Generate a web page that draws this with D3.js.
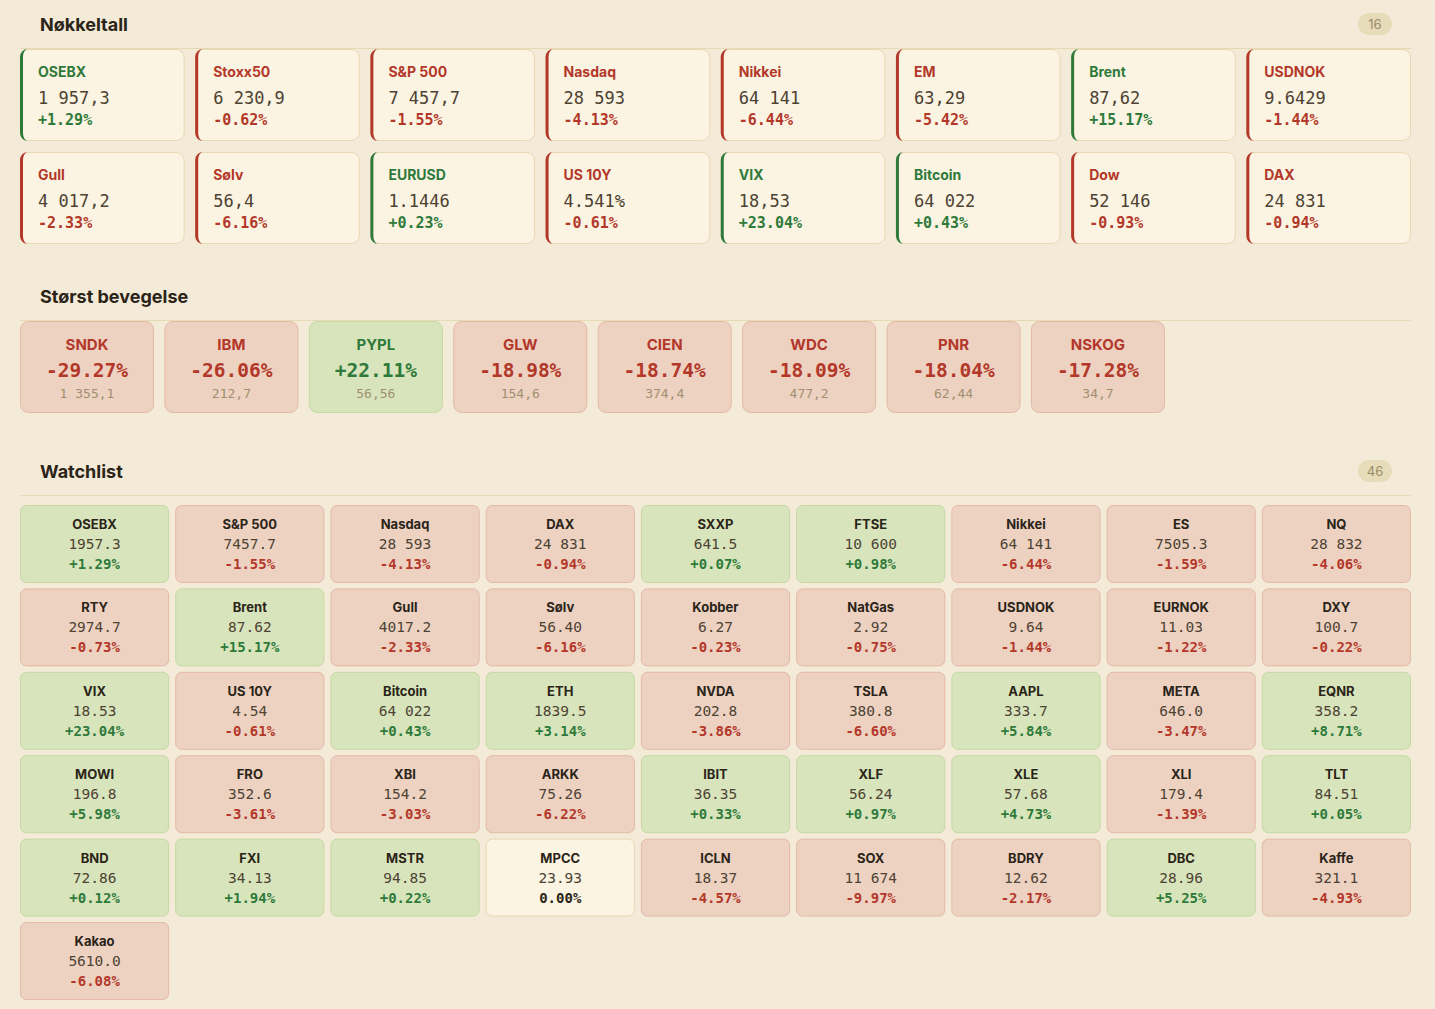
<!DOCTYPE html>
<html>
<head>
<meta charset="utf-8">
<script src="https://cdn.jsdelivr.net/npm/d3@7"></script>
<style>
  html, body { margin: 0; padding: 0; background: #f3ead7; }
  svg { display: block; }
</style>
</head>
<body>
<div id="board"></div>
<script>
// Nøkkeltall
const keyNames   = ["OSEBX","Stoxx50","S&P 500","Nasdaq","Nikkei","EM","Brent","USDNOK",
                    "Gull","Sølv","EURUSD","US 10Y","VIX","Bitcoin","Dow","DAX"];
const keyValues  = ["1 957,3","6 230,9","7 457,7","28 593","64 141","63,29","87,62","9.6429",
                    "4 017,2","56,4","1.1446","4.541%","18,53","64 022","52 146","24 831"];
const keyChanges = [1.29,-0.62,-1.55,-4.13,-6.44,-5.42,15.17,-1.44,
                    -2.33,-6.16,0.23,-0.61,23.04,0.43,-0.93,-0.94];

// Størst bevegelse
const moverNames   = ["SNDK","IBM","PYPL","GLW","CIEN","WDC","PNR","NSKOG"];
const moverChanges = [-29.27,-26.06,22.11,-18.98,-18.74,-18.09,-18.04,-17.28];
const moverValues  = ["1 355,1","212,7","56,56","154,6","374,4","477,2","62,44","34,7"];

// Watchlist
const watchNames = ["OSEBX","S&P 500","Nasdaq","DAX","SXXP","FTSE","Nikkei","ES","NQ",
                    "RTY","Brent","Gull","Sølv","Kobber","NatGas","USDNOK","EURNOK","DXY",
                    "VIX","US 10Y","Bitcoin","ETH","NVDA","TSLA","AAPL","META","EQNR",
                    "MOWI","FRO","XBI","ARKK","IBIT","XLF","XLE","XLI","TLT",
                    "BND","FXI","MSTR","MPCC","ICLN","SOX","BDRY","DBC","Kaffe",
                    "Kakao"];
const watchValues = ["1957.3","7457.7","28 593","24 831","641.5","10 600","64 141","7505.3","28 832",
                     "2974.7","87.62","4017.2","56.40","6.27","2.92","9.64","11.03","100.7",
                     "18.53","4.54","64 022","1839.5","202.8","380.8","333.7","646.0","358.2",
                     "196.8","352.6","154.2","75.26","36.35","56.24","57.68","179.4","84.51",
                     "72.86","34.13","94.85","23.93","18.37","11 674","12.62","28.96","321.1",
                     "5610.0"];
const watchChanges = [1.29,-1.55,-4.13,-0.94,0.07,0.98,-6.44,-1.59,-4.06,
                      -0.73,15.17,-2.33,-6.16,-0.23,-0.75,-1.44,-1.22,-0.22,
                      23.04,-0.61,0.43,3.14,-3.86,-6.60,5.84,-3.47,8.71,
                      5.98,-3.61,-3.03,-6.22,0.33,0.97,4.73,-1.39,0.05,
                      0.12,1.94,0.22,0.00,-4.57,-9.97,-2.17,5.25,-4.93,
                      -6.08];

const W = 1435, H = 1009;
const SANS = "Inter, 'Noto Sans', sans-serif";
const MONO = "'DejaVu Sans Mono', 'Liberation Mono', monospace";

const C = {
  ink: "#2b2418", value: "#4d4233", muted: "#a0906f",
  up: "#2f7a3b", down: "#b3382a",
  card: "#fbf4e2", cardLine: "#e8d9b2",
  upFill: "#d8e5bc", upLine: "#c4d9a3",
  downFill: "#edd2c2", downLine: "#e4b9a6",
  rule: "#e6d9b6", badge: "#e7dcb9", badgeText: "#9a8b69"
};

// plain hyphen for minus, like the source page
const locale = d3.formatLocale({decimal: ".", thousands: " ", grouping: [3], currency: ["", ""], minus: "-"});
const fmtPct = v => (v === 0 ? "0.00" : locale.format("+.2f")(v)) + "%";
const tone = v => v > 0 ? "up" : (v < 0 ? "down" : "flat");
const textCol = v => v > 0 ? C.up : (v < 0 ? C.down : C.ink);

const svg = d3.select("#board").append("svg")
    .attr("width", W).attr("height", H);

svg.append("rect").attr("width", W).attr("height", H).attr("fill", "#f3ead7");

function sectionHead(title, baseline, ruleY, count) {
    svg.append("text")
        .attr("x", 40).attr("y", baseline)
        .attr("font-family", SANS).attr("font-weight", 700)
        .attr("font-size", 18).attr("fill", C.ink)
        .text(title);
    svg.append("line")
        .attr("x1", 20).attr("x2", 1411)
        .attr("y1", ruleY).attr("y2", ruleY)
        .attr("stroke", C.rule).attr("stroke-width", 1);
    if (count != null) {
        let cy = baseline - 7;
        svg.append("rect")
            .attr("x", 1358).attr("y", cy - 11)
            .attr("width", 34).attr("height", 22)
            .attr("rx", 11).attr("fill", C.badge);
        svg.append("text")
            .attr("x", 1375).attr("y", cy + 4.5)
            .attr("text-anchor", "middle")
            .attr("font-family", SANS).attr("font-size", 13)
            .attr("fill", C.badgeText)
            .text(count);
    }
}

//---------- Nøkkeltall
sectionHead("Nøkkeltall", 31, 48.5, keyNames.length);

let keyX = d3.scaleBand().domain(d3.range(8)).range([20, 1411]).paddingInner(0.06);
let keyY = d3.scaleBand().domain(d3.range(2)).range([49, 244]).paddingInner(0.107);

let keyData = keyNames.map((n, i) => ({name: n, value: keyValues[i], change: keyChanges[i], i: i}));

let keyCards = svg.append("g").selectAll("g.key")
    .data(keyData).enter().append("g")
    .attr("class", "key")
    .attr("transform", d => `translate(${keyX(d.i % 8)},${keyY(Math.floor(d.i / 8))})`);

let kw = keyX.bandwidth(), kh = keyY.bandwidth();

keyCards.append("rect")
    .attr("x", 0.5).attr("y", 0.5)
    .attr("width", kw - 1).attr("height", kh - 1)
    .attr("rx", 8)
    .attr("fill", C.card).attr("stroke", C.cardLine);

// left accent, curved like a css border-left
keyCards.append("path")
    .attr("d", `M8,0 A8,8 0 0 0 0,8 V${kh - 8} A8,8 0 0 0 8,${kh} A5,8 0 0 1 3,${kh - 8} V8 A5,8 0 0 1 8,0 Z`)
    .attr("fill", d => textCol(d.change));

keyCards.append("text")
    .attr("x", 18).attr("y", 28)
    .attr("font-family", SANS).attr("font-weight", 700).attr("font-size", 14)
    .attr("fill", d => textCol(d.change))
    .text(d => d.name);

keyCards.append("text")
    .attr("x", 18).attr("y", 55)
    .attr("font-family", MONO).attr("font-size", 17)
    .attr("fill", C.value)
    .text(d => d.value);

keyCards.append("text")
    .attr("x", 18).attr("y", 76)
    .attr("font-family", MONO).attr("font-weight", 700).attr("font-size", 15)
    .attr("fill", d => textCol(d.change))
    .text(d => fmtPct(d.change));

//---------- Størst bevegelse
sectionHead("Størst bevegelse", 303, 320.5, null);

let movX = d3.scaleBand().domain(d3.range(moverNames.length)).range([20, 1165]).paddingInner(0.072);
let movData = moverNames.map((n, i) => ({name: n, value: moverValues[i], change: moverChanges[i], i: i}));
let mw = movX.bandwidth(), mh = 92;

let movers = svg.append("g").selectAll("g.mover")
    .data(movData).enter().append("g")
    .attr("class", "mover")
    .attr("transform", d => `translate(${movX(d.i)},321)`);

movers.append("rect")
    .attr("x", 0.5).attr("y", 0.5)
    .attr("width", mw - 1).attr("height", mh - 1)
    .attr("rx", 8)
    .attr("fill", d => d.change > 0 ? C.upFill : C.downFill)
    .attr("stroke", d => d.change > 0 ? C.upLine : C.downLine);

movers.append("text")
    .attr("x", mw / 2).attr("y", 29)
    .attr("text-anchor", "middle")
    .attr("font-family", SANS).attr("font-weight", 700).attr("font-size", 15)
    .attr("fill", d => textCol(d.change))
    .text(d => d.name);

movers.append("text")
    .attr("x", mw / 2).attr("y", 56)
    .attr("text-anchor", "middle")
    .attr("font-family", MONO).attr("font-weight", 700).attr("font-size", 19.5)
    .attr("fill", d => textCol(d.change))
    .text(d => fmtPct(d.change));

movers.append("text")
    .attr("x", mw / 2).attr("y", 77)
    .attr("text-anchor", "middle")
    .attr("font-family", MONO).attr("font-size", 13)
    .attr("fill", C.muted)
    .text(d => d.value);

//---------- Watchlist
sectionHead("Watchlist", 478, 495.5, watchNames.length);

let wX = d3.scaleBand().domain(d3.range(9)).range([20, 1411]).paddingInner(0.039);
let wY = d3.scaleBand().domain(d3.range(6)).range([505, 1000]).paddingInner(0.065);
let ww = wX.bandwidth(), wh = wY.bandwidth();

let watchData = watchNames.map((n, i) => ({name: n, value: watchValues[i], change: watchChanges[i], i: i}));

let cells = svg.append("g").selectAll("g.cell")
    .data(watchData).enter().append("g")
    .attr("class", "cell")
    .attr("transform", d => `translate(${wX(d.i % 9)},${wY(Math.floor(d.i / 9))})`);

cells.append("rect")
    .attr("x", 0.5).attr("y", 0.5)
    .attr("width", ww - 1).attr("height", wh - 1)
    .attr("rx", 6)
    .attr("fill", d => ({up: C.upFill, down: C.downFill, flat: C.card})[tone(d.change)])
    .attr("stroke", d => ({up: C.upLine, down: C.downLine, flat: C.cardLine})[tone(d.change)]);

cells.append("text")
    .attr("x", ww / 2).attr("y", 24)
    .attr("text-anchor", "middle")
    .attr("font-family", SANS).attr("font-weight", 700).attr("font-size", 13)
    .attr("fill", C.ink)
    .text(d => d.name);

cells.append("text")
    .attr("x", ww / 2).attr("y", 44)
    .attr("text-anchor", "middle")
    .attr("font-family", MONO).attr("font-size", 14.5)
    .attr("fill", C.value)
    .text(d => d.value);

cells.append("text")
    .attr("x", ww / 2).attr("y", 64)
    .attr("text-anchor", "middle")
    .attr("font-family", MONO).attr("font-weight", 700).attr("font-size", 14)
    .attr("fill", d => textCol(d.change))
    .text(d => fmtPct(d.change));
</script>
</body>
</html>
